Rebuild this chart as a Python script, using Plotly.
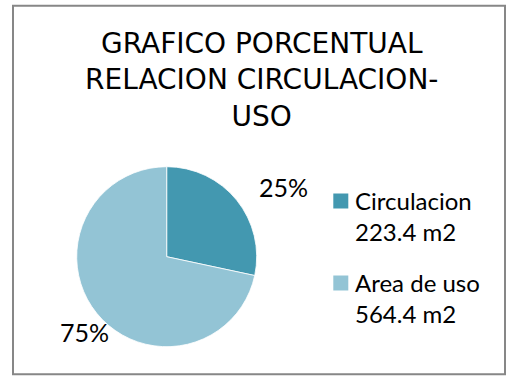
import plotly.graph_objects as go

# Areas (m2) per use type
categories = ["Circulacion", "Area de uso"]
areas_m2 = [223.4, 564.4]
percent_labels = ["25%", "75%"]
colors = ["#4398B0", "#93C4D5"]
title_lines = ["GRAFICO PORCENTUAL", "RELACION CIRCULACION-", "USO"]

W, H = 507, 377

def px_x(x):
    return x / W

def px_y(y):
    return 1 - y / H

fig = go.Figure()
fig.add_trace(go.Pie(
    labels=categories,
    values=areas_m2,
    marker=dict(colors=colors, line=dict(color="white", width=0.8)),
    sort=False,
    direction="clockwise",
    rotation=0,
    textinfo="none",
    hoverinfo="label+value+percent",
    showlegend=False,
    domain=dict(x=[px_x(76.7), px_x(256.7)], y=[px_y(346.7), px_y(166.7)]),
))

# Percentage labels beside each slice
label_pos = [(283, 187), (84, 332)]
for txt, (lx, ly) in zip(percent_labels, label_pos):
    fig.add_annotation(
        x=px_x(lx), y=px_y(ly), xref="paper", yref="paper",
        text=txt, showarrow=False, xanchor="center", yanchor="middle",
        font=dict(family="Lato", size=25, color="#000000"),
    )

# Legend: colour square + two-line caption per category
legend_rows = [201, 283]
for name, area, color, yc in zip(categories, areas_m2, colors, legend_rows):
    fig.add_shape(
        type="rect", xref="paper", yref="paper",
        x0=px_x(333.3), x1=px_x(348.3), y0=px_y(yc + 7.5), y1=px_y(yc - 7.5),
        line=dict(width=0), fillcolor=color,
    )
    fig.add_annotation(
        x=px_x(353), y=px_y(yc - 17), xref="paper", yref="paper",
        text=f"{name}<br>{area} m2", showarrow=False,
        xanchor="left", yanchor="top", align="left",
        font=dict(family="Lato", size=24, color="#000000"),
    )

# Title
fig.add_annotation(
    x=px_x(261), y=px_y(25), xref="paper", yref="paper",
    text="<br>".join(title_lines), showarrow=False,
    xanchor="center", yanchor="top", align="center",
    font=dict(family="DejaVu Sans", size=28, color="#000000"),
)

# Chart frame
fig.add_shape(
    type="rect", xref="paper", yref="paper",
    x0=px_x(13), x1=px_x(505), y0=px_y(374.3), y1=px_y(5.7),
    line=dict(color="#878787", width=2), fillcolor="rgba(0,0,0,0)",
)

fig.update_layout(
    width=W, height=H,
    autosize=False,
    margin=dict(l=0, r=0, t=0, b=0),
    paper_bgcolor="white",
    plot_bgcolor="white",
)

fig.write_html("out.html")
